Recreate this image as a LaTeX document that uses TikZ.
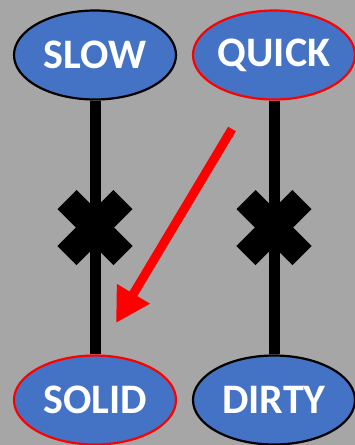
\documentclass[tikz,border=0pt]{standalone}
\usepackage{fontspec}
\setmainfont{Carlito}
\usetikzlibrary{shapes.geometric,arrows.meta}
\definecolor{bggray}{HTML}{A6A6A6}
\definecolor{wordblue}{HTML}{4472C4}
\tikzset{
  word/.style={ellipse,draw,fill=wordblue,line width=2.2pt,minimum width=162pt,minimum height=89pt,
    inner sep=0pt,text=white,font=\fontsize{42}{44}\selectfont\bfseries},
  link/.style={line width=11pt},
  cross/.style={line width=27pt},
}
\begin{document}
\begin{tikzpicture}[x=1pt,y=-1pt]
\fill[bggray] (0,0) rectangle (355,445);
\useasboundingbox (0,0) rectangle (355,445);

% words
\node[word] (slow) at (95,55) {SLOW};
\node[word,draw=red] (quick) at (274,55) {QUICK};
\node[word,draw=red] (solid) at (95,400) {SOLID};
\node[word] (dirty) at (274,400) {DIRTY};

% links, crossed out
\draw[link] (slow) -- (solid) coordinate[midway] (xl);
\draw[link] (quick) -- (dirty) coordinate[midway] (xr);
\draw[cross] (xl) ++(-28,-28) -- ++(56,56);
\draw[cross] (xl) ++(28,-28) -- ++(-56,56);
\draw[cross] (xr) ++(-28,-28) -- ++(56,56);
\draw[cross] (xr) ++(28,-28) -- ++(-56,56);

% red arrow
\coordinate (tail) at (232,129);
\coordinate (head) at (116,323);
\draw[red,line width=9pt,-{Triangle[length=34pt,width=36pt]}] (tail) -- (head);
\end{tikzpicture}
\end{document}
